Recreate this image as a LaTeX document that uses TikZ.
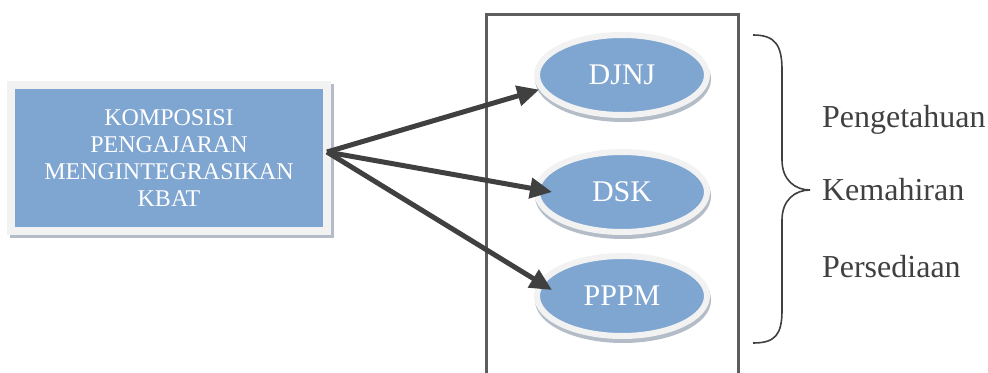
\documentclass[tikz,border=0pt]{standalone}
\usepackage{fontspec}
\setmainfont{Liberation Serif}
\usepackage{tikz}
\usetikzlibrary{arrows.meta,shapes.geometric,shadows}
\definecolor{kblue}{HTML}{7FA5D1}
\definecolor{kring}{HTML}{F2F2F2}
\definecolor{kshad}{HTML}{B3BCC7}
\definecolor{kdark}{HTML}{404040}

\begin{document}
\begin{tikzpicture}[x=0.5pt, y=-0.5pt,
  blk/.style={draw=kring, fill=kblue, line width=4pt, minimum width=158pt, minimum height=73pt, align=center, text=white, font=\rmfamily\fontsize{12}{13.5}\selectfont,
    drop shadow={shadow xshift=1.5pt, shadow yshift=-1.5pt, fill=kshad, draw=kshad, line width=4pt, opacity=1}},
  ell/.style={ellipse, draw=kring, fill=kblue, line width=3pt, minimum width=85pt, minimum height=40pt, text=white, font=\rmfamily\fontsize{15}{18}\selectfont,
    drop shadow={shadow xshift=0.5pt, shadow yshift=-2pt, fill=kshad, draw=kshad, line width=3pt, opacity=1}},
  arr/.style={-{Triangle[length=11pt,width=10pt]}, draw=kdark, line width=2.5pt},
  lbl/.style={anchor=west, text=kdark, font=\rmfamily\fontsize{16}{19}\selectfont}]
\useasboundingbox (0,0) rectangle (988,373);
\draw[draw=kdark!85, line width=1.5pt] (486,15) rectangle (738,390);
\node[blk] (komp) at (169,158) {KOMPOSISI\\PENGAJARAN\\MENGINTEGRASIKAN\\KBAT};
\node[ell] (djnj) at (622,75) {DJNJ};
\node[ell] (dsk) at (622,192) {DSK};
\node[ell] (pppm) at (622,296) {PPPM};
\coordinate (src) at (327,152);
\draw[arr] (src) -- (djnj.190);
\draw[arr] (src) -- ([xshift=9pt]dsk.west);
\draw[arr] (src) -- ([xshift=9pt,yshift=3pt]pppm.west);
% kurungan
\draw[draw=kdark, line width=0.8pt] (753,35) .. controls (775,35) and (782,45) .. (782,70) -- (782,160)
  .. controls (782,180) and (795,190) .. (810,190) .. controls (795,190) and (782,200) .. (782,220)
  -- (782,310) .. controls (782,335) and (775,343) .. (753,343);
\node[lbl] (peng) at (815,120) {Pengetahuan};
\node[lbl] (kema) at (815,190) {Kemahiran};
\node[lbl] (pers) at (815,267) {Persediaan};
\end{tikzpicture}
\end{document}
